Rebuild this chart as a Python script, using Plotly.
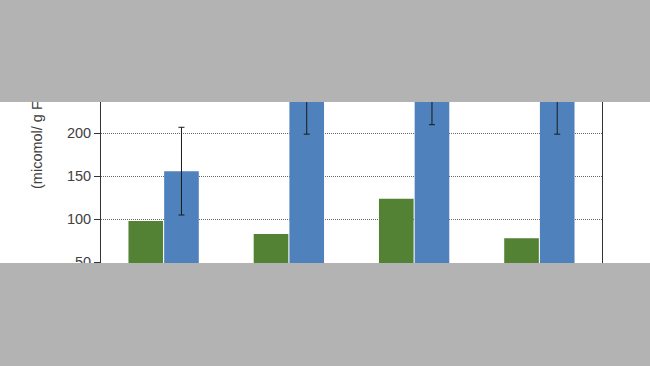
import plotly.graph_objects as go

categories = ["1", "2", "3", "4"]
green_values = [98, 83, 124, 78]
blue_values = [156, 300, 305, 300]
blue_errors = [51, 101, 95, 101]
y_ticks = [50, 100, 150, 200]
y_title = "(micomol/ g F"

GREEN = "#548235"
BLUE = "#4f81bd"
GRAY = "#b3b3b3"

fig = go.Figure()
fig.add_trace(go.Bar(x=categories, y=green_values, marker_color=GREEN,
                     marker_line_width=0, showlegend=False))
fig.add_trace(go.Bar(x=categories, y=blue_values, marker_color=BLUE,
                     marker_line_width=0, showlegend=False,
                     error_y=dict(type="data", array=blue_errors, visible=True,
                                  color="#1a1a1a", thickness=1, width=3)))

fig.update_layout(
    width=650, height=366, autosize=False,
    margin=dict(l=101, r=48, t=102, b=103, pad=0),
    paper_bgcolor="white", plot_bgcolor="white",
    barmode="group", bargap=0.43, bargroupgap=0.03,
    font=dict(family="Liberation Sans, Arial, sans-serif", size=14, color="#404040"),
    xaxis=dict(showticklabels=False, showgrid=False, showline=False, ticks="",
               zeroline=False),
    yaxis=dict(range=[49.2, 236.4], tickvals=y_ticks, showgrid=True,
               gridcolor="#6a6a6a", gridwidth=1, griddash="1px,1px",
               showline=True, linecolor="#333333", linewidth=1, mirror=True,
               ticks="outside", ticklen=6, tickcolor="#333333",
               zeroline=False, tickfont=dict(size=14.5, color="#404040")),
    shapes=[
        dict(type="rect", xref="paper", yref="paper", x0=-1, x1=2, y0=1, y1=3,
             fillcolor=GRAY, line=dict(width=0), layer="above"),
        dict(type="rect", xref="paper", yref="paper", x0=-1, x1=2, y0=-2, y1=0,
             fillcolor=GRAY, line=dict(width=0), layer="above"),
    ],
    annotations=[
        dict(text=y_title, xref="paper", yref="paper", x=(37 - 101) / 501,
             y=(263 - 191) / 161, xanchor="center", yanchor="bottom",
             textangle=-90, showarrow=False,
             font=dict(size=14.5, color="#404040")),
    ],
)

fig.write_html("out.html")
